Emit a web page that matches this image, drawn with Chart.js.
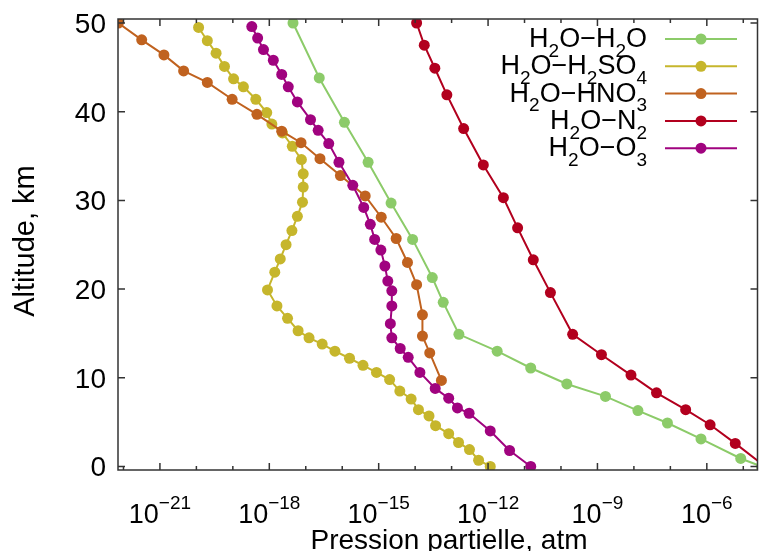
<!DOCTYPE html>
<html>
<head>
<meta charset="utf-8">
<title>Pression partielle</title>
<script src="https://cdn.jsdelivr.net/npm/chart.js@4.4.1/dist/chart.umd.min.js"></script>
<style>
html, body { margin: 0; padding: 0; background: #fff; }
#myChart { display: block; }
</style>
</head>
<body>
<canvas id="myChart" width="763" height="551"></canvas>
<script>
// values: log10 of partial pressure (atm) and altitude (km)
var h2o_logP = [-17.35, -16.63, -15.94, -15.29, -14.66, -14.07, -13.53, -13.23, -12.80, -11.75, -10.83, -9.84, -8.78, -7.89, -7.08, -6.16, -5.07, -4.5];
var h2o_alt  = [50, 43.8, 38.8, 34.3, 29.7, 25.6, 21.3, 18.5, 14.9, 13.0, 11.1, 9.3, 7.9, 6.3, 4.9, 3.1, 0.9, 0];

var h2so4_logP = [-19.94, -19.70, -19.46, -19.23, -18.98, -18.71, -18.37, -18.07, -17.93, -17.64, -17.37, -17.12, -17.07, -17.07, -17.09, -17.23, -17.38, -17.54, -17.70, -17.85, -18.05, -17.79, -17.50, -17.21, -16.91, -16.55, -16.20, -15.80, -15.43, -15.06, -14.70, -14.42, -14.11, -13.91, -13.62, -13.44, -13.08, -12.81, -12.51, -12.26, -11.94];
var h2so4_alt  = [49.5, 48.0, 46.6, 45.1, 43.7, 42.8, 41.4, 39.9, 38.6, 37.6, 36.1, 34.6, 33.0, 31.5, 29.8, 28.2, 26.6, 25.0, 23.4, 21.9, 19.9, 18.1, 16.7, 15.3, 14.5, 13.8, 13.0, 12.2, 11.4, 10.6, 9.8, 8.5, 7.6, 6.4, 5.7, 4.6, 3.7, 2.7, 1.9, 0.7, 0];

var hno3_logP = [-22.14, -21.50, -20.89, -20.35, -19.70, -19.02, -18.34, -17.66, -17.13, -16.61, -16.05, -15.37, -14.93, -14.52, -14.21, -13.96, -13.80, -13.80, -13.60, -13.28];
var hno3_alt  = [50, 48.1, 46.4, 44.6, 43.3, 41.4, 39.7, 37.8, 36.5, 34.7, 32.8, 30.5, 28.1, 25.7, 23.0, 20.5, 17.1, 14.7, 12.8, 9.7];

var n2_logP = [-13.96, -13.75, -13.46, -13.13, -12.67, -12.13, -11.58, -11.19, -10.76, -10.29, -9.68, -8.89, -8.08, -7.38, -6.58, -5.91, -5.22, -4.4];
var n2_alt  = [50, 47.5, 44.9, 41.9, 38.1, 34.0, 30.3, 26.9, 23.3, 19.6, 14.9, 12.6, 10.3, 8.3, 6.4, 4.7, 2.6, 0];

var o3_logP = [-18.48, -18.32, -18.16, -17.89, -17.66, -17.48, -17.23, -16.87, -16.66, -16.37, -16.09, -15.71, -15.41, -15.23, -15.11, -14.94, -14.83, -14.75, -14.64, -14.64, -14.68, -14.64, -14.41, -14.19, -13.87, -13.45, -13.08, -12.84, -12.52, -11.94, -11.41, -10.83];
var o3_alt  = [49.6, 48.3, 47.0, 45.8, 44.2, 42.8, 41.1, 39.1, 37.9, 36.4, 34.3, 31.7, 29.2, 27.3, 25.6, 24.4, 22.6, 20.9, 19.8, 18.1, 16.1, 14.5, 13.3, 12.3, 10.6, 8.8, 7.7, 6.6, 6.0, 4.0, 1.8, 0];

var seriesNames = ['H_2O−H_2O', 'H_2O−H_2SO_4', 'H_2O−HNO_3', 'H_2O−N_2', 'H_2O−O_3'];
var xTickExp = [-21, -18, -15, -12, -9, -6];
var yTicks = [0, 10, 20, 30, 40, 50];

var colors = ['#8ccb69', '#c6b62c', '#c0621f', '#b2001e', '#a0037f'];
var FONT = '"Liberation Sans", Arial, Helvetica, sans-serif';

function toPoints(logP, alt) {
  var pts = [];
  for (var i = 0; i < logP.length; i++) {
    pts.push({x: Math.pow(10, logP[i]), y: alt[i]});
  }
  return pts;
}

// "_X" = subscript char, "^{..}" = superscript
function parseRich(s) {
  var parts = [], buf = '';
  for (var i = 0; i < s.length; i++) {
    var c = s[i];
    if (c == '_') {
      if (buf) { parts.push([buf, 0]); buf = ''; }
      parts.push([s[i + 1], 1]); i++;
    } else if (c == '^' && s[i + 1] == '{') {
      if (buf) { parts.push([buf, 0]); buf = ''; }
      var end = s.indexOf('}', i);
      parts.push([s.substring(i + 2, end), 2]); i = end;
    } else buf += c;
  }
  if (buf) parts.push([buf, 0]);
  return parts;
}

function drawRich(ctx, s, x, y, align, size) {
  var parts = parseRich(s), small = Math.round(size * 0.7), w = 0;
  for (var i = 0; i < parts.length; i++) {
    ctx.font = (parts[i][1] ? small : size) + 'px ' + FONT;
    parts[i].push(ctx.measureText(parts[i][0]).width);
    w += parts[i][2];
  }
  var cx = align == 'right' ? x - w : (align == 'center' ? x - w / 2 : x);
  ctx.textAlign = 'left';
  ctx.textBaseline = 'alphabetic';
  for (var j = 0; j < parts.length; j++) {
    var p = parts[j], dy = 0;
    if (p[1] == 1) dy = size * 0.36;
    if (p[1] == 2) dy = -size * 0.52;
    ctx.font = (p[1] ? small : size) + 'px ' + FONT;
    ctx.fillText(p[0], cx, y + dy);
    cx += p[2];
  }
}

var framePlugin = {
  id: 'frame',
  afterDraw: function(chart) {
    var ctx = chart.ctx, a = chart.chartArea;
    var xs = chart.scales.x, ys = chart.scales.y;
    ctx.save();
    ctx.strokeStyle = '#333';
    ctx.lineWidth = 1.5;
    ctx.strokeRect(a.left, a.top, a.right - a.left, a.bottom - a.top);

    // inward ticks, mirrored
    ctx.beginPath();
    for (var e = -22; e <= -5; e++) {
      var px = xs.getPixelForValue(Math.pow(10, e));
      var len = (e % 3 === 0) ? 7 : 4;
      ctx.moveTo(px, a.bottom); ctx.lineTo(px, a.bottom - len);
      ctx.moveTo(px, a.top); ctx.lineTo(px, a.top + len);
    }
    for (var k = 0; k < yTicks.length; k++) {
      var py = ys.getPixelForValue(yTicks[k]);
      ctx.moveTo(a.left, py); ctx.lineTo(a.left + 7, py);
      ctx.moveTo(a.right, py); ctx.lineTo(a.right - 7, py);
    }
    ctx.stroke();

    ctx.fillStyle = '#000';
    // x tick labels
    for (var t = 0; t < xTickExp.length; t++) {
      var tx = xs.getPixelForValue(Math.pow(10, xTickExp[t]));
      drawRich(ctx, '10^{' + String(xTickExp[t]).replace('-', '−') + '}', tx, 523, 'center', 27);
    }
    // y tick labels
    ctx.font = '28px ' + FONT;
    ctx.textAlign = 'right';
    ctx.textBaseline = 'alphabetic';
    for (var m = 0; m < yTicks.length; m++) {
      ctx.fillText(String(yTicks[m]), 106, ys.getPixelForValue(yTicks[m]) + 10);
    }
    // axis titles
    ctx.textAlign = 'center';
    ctx.fillText('Pression partielle, atm', 449, 549);
    ctx.save();
    ctx.font = '29px ' + FONT;
    ctx.translate(34, 241);
    ctx.rotate(-Math.PI / 2);
    ctx.fillText('Altitude, km', 0, 0);
    ctx.restore();

    // legend, gnuplot style: text then sample
    var ds = chart.data.datasets;
    for (var d = 0; d < ds.length; d++) {
      var ly = 39 + d * 27.3;
      ctx.fillStyle = '#000';
      drawRich(ctx, ds[d].label, 647, ly + 8, 'right', 27);
      ctx.strokeStyle = ds[d].borderColor;
      ctx.lineWidth = 2;
      ctx.beginPath(); ctx.moveTo(665, ly); ctx.lineTo(737, ly); ctx.stroke();
      ctx.fillStyle = ds[d].borderColor;
      ctx.beginPath(); ctx.arc(701, ly, 5.5, 0, Math.PI * 2); ctx.fill();
    }
    ctx.restore();
  }
};

var allLogP = [h2o_logP, h2so4_logP, hno3_logP, n2_logP, o3_logP];
var allAlt = [h2o_alt, h2so4_alt, hno3_alt, n2_alt, o3_alt];
var datasets = [];
for (var s = 0; s < seriesNames.length; s++) {
  datasets.push({
    label: seriesNames[s],
    data: toPoints(allLogP[s], allAlt[s]),
    showLine: true,
    borderColor: colors[s],
    backgroundColor: colors[s],
    borderWidth: 2,
    pointRadius: 5.5,
    pointBorderWidth: 0,
    pointHoverRadius: 5.5,
    order: seriesNames.length - s
  });
}

var ctx = document.getElementById('myChart').getContext('2d');
var myChart = new Chart(ctx, {
  type: 'scatter',
  data: { datasets: datasets },
  options: {
    responsive: false,
    animation: false,
    devicePixelRatio: 1,
    layout: { padding: { left: 118, right: 1, top: 19, bottom: 81 } },
    plugins: { legend: { display: false }, tooltip: { enabled: false } },
    scales: {
      x: {
        type: 'logarithmic',
        display: false,
        min: Math.pow(10, -22.15),
        max: Math.pow(10, -4.61)
      },
      y: {
        type: 'linear',
        display: false,
        min: -0.4,
        max: 50.45
      }
    }
  },
  plugins: [framePlugin]
});
</script>
</body>
</html>
